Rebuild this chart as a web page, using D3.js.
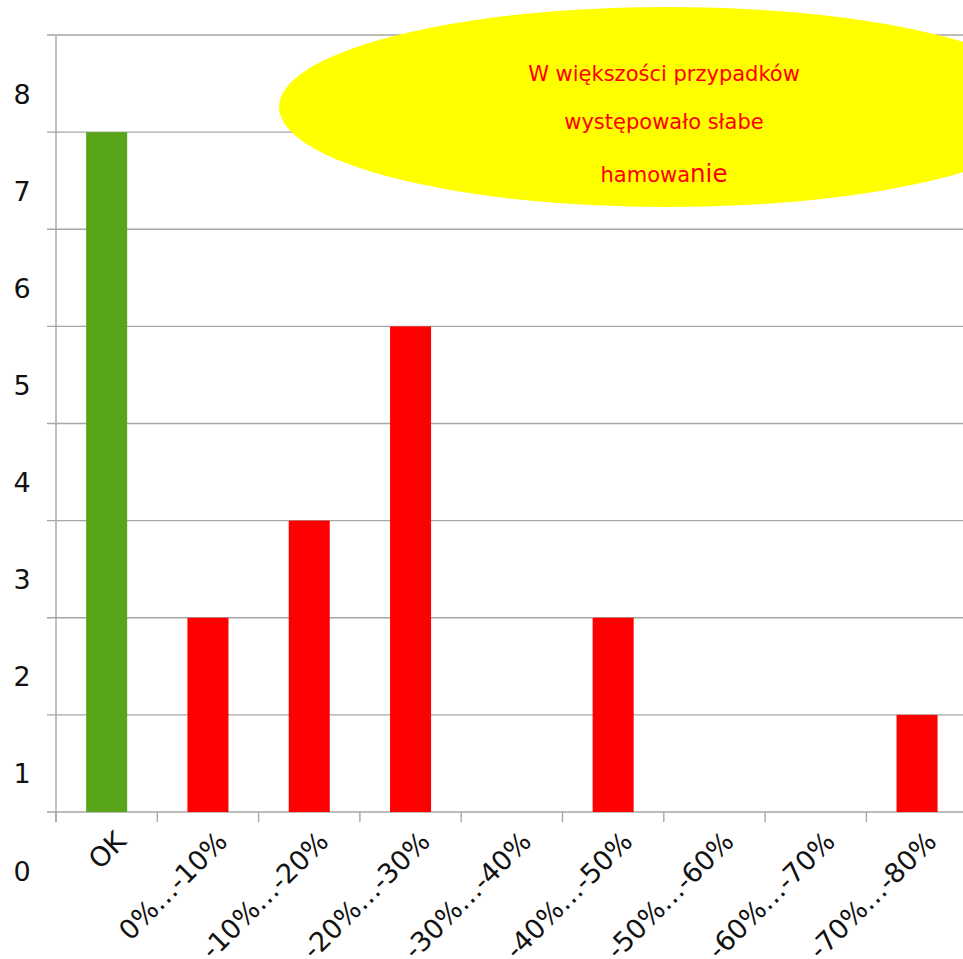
<!DOCTYPE html>
<html>
<head>
<meta charset="utf-8">
<script src="https://cdn.jsdelivr.net/npm/d3@7"></script>
<style>
  html, body { margin: 0; padding: 0; background: #fff; overflow: hidden; }
  svg { display: block; }
</style>
</head>
<body>
<script>
// ---- data ----
const categories = ["OK", "0%…-10%", "-10%…-20%", "-20%…-30%", "-30%…-40%", "-40%…-50%", "-50%…-60%", "-60%…-70%", "-70%…-80%"];
const counts = [7, 2, 3, 5, 0, 2, 0, 0, 1];
const barColors = ["#59a51a", "#ff0000", "#ff0000", "#ff0000", "#ff0000", "#ff0000", "#ff0000", "#ff0000", "#ff0000"];
const yTicks = [0, 1, 2, 3, 4, 5, 6, 7, 8];
const noteLines = ["W większości przypadków", "występowało słabe"];
const noteLast = ["hamowa", "nie"];

const W = 963, H = 959;
const svg = d3.select("body").append("svg").attr("width", W).attr("height", H);

const left = 56, bandW = 101.3;
const x = d3.scaleBand().domain(categories).range([left, left + bandW * categories.length]).padding(0);
const y = d3.scaleLinear().domain([0, 8]).range([812, 35]);

const gray = "#a6a6a6";

// gridlines
svg.append("g").selectAll("line").data(yTicks).join("line")
  .attr("x1", 47).attr("x2", x.range()[1])
  .attr("y1", d => y(d)).attr("y2", d => y(d))
  .attr("stroke", gray).attr("stroke-width", 1.4);

// y axis line
svg.append("line").attr("x1", left).attr("x2", left).attr("y1", y(8)).attr("y2", y(0) + 10)
  .attr("stroke", gray).attr("stroke-width", 1.4);

// x ticks at band boundaries
const bounds = categories.map(c => x(c)).concat([x.range()[1]]);
svg.append("g").selectAll("line").data(bounds).join("line")
  .attr("x1", d => d).attr("x2", d => d)
  .attr("y1", y(0)).attr("y2", y(0) + 10)
  .attr("stroke", gray).attr("stroke-width", 1.4);

// bars
const barFrac = 0.405;
svg.append("g").selectAll("rect").data(categories).join("rect")
  .attr("x", d => x(d) + x.bandwidth() * (1 - barFrac) / 2)
  .attr("width", x.bandwidth() * barFrac)
  .attr("y", (d, i) => y(counts[i]))
  .attr("height", (d, i) => y(0) - y(counts[i]))
  .attr("fill", (d, i) => barColors[i]);

// y labels (offset below gridlines as in reference)
svg.append("g").selectAll("text").data(yTicks).join("text")
  .attr("x", 22).attr("y", d => y(d) + 59)
  .attr("text-anchor", "middle").attr("dominant-baseline", "central")
  .attr("font-family", "DejaVu Sans, Verdana, sans-serif").attr("font-size", 27)
  .attr("fill", "#111")
  .text(d => d);

// x labels
svg.append("g").selectAll("text").data(categories).join("text")
  .attr("transform", d => `translate(${x(d) + x.bandwidth() / 2 + 21},843) rotate(-45)`)
  .attr("text-anchor", "end")
  .attr("font-family", "DejaVu Sans, Verdana, sans-serif").attr("font-size", 27)
  .attr("fill", "#111")
  .text(d => d);

// annotation ellipse
svg.append("ellipse").attr("cx", 668).attr("cy", 107).attr("rx", 389).attr("ry", 100).attr("fill", "#ffff00");

const noteFont = "'DejaVu Sans', Verdana, sans-serif";
const noteX = 664;
const noteY = [81, 129];
svg.append("g").selectAll("text").data(noteLines).join("text")
  .attr("x", noteX).attr("y", (d, i) => noteY[i])
  .attr("text-anchor", "middle")
  .attr("font-family", noteFont).attr("font-size", 21)
  .attr("fill", "#ff0000")
  .text(d => d);
const last = svg.append("text").attr("x", noteX).attr("y", 182).attr("text-anchor", "middle")
  .attr("font-family", noteFont).attr("fill", "#ff0000");
last.append("tspan").attr("font-size", 21).text(noteLast[0]);
last.append("tspan").attr("font-size", 24.5).text(noteLast[1]);
</script>
</body>
</html>
